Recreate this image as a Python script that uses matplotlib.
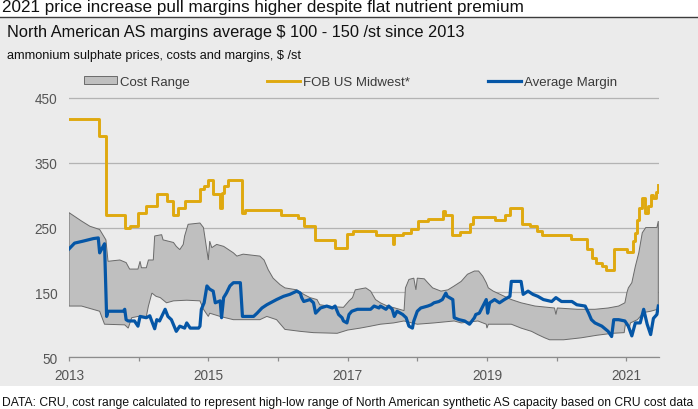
import numpy as np
import matplotlib
matplotlib.use("Agg")
import matplotlib.pyplot as plt
from matplotlib.patches import Rectangle, Patch
from matplotlib.lines import Line2D

# ---- data ----
gold_years = [2013.00, 2013.43, 2013.53, 2013.80, 2013.87, 2013.99, 2014.11, 2014.26, 2014.40, 2014.50,
              2014.57, 2014.66, 2014.88, 2014.94, 2015.00, 2015.07, 2015.17, 2015.19, 2015.23, 2015.28,
              2015.48, 2015.52, 2016.05, 2016.29, 2016.37, 2016.53, 2016.82, 2016.99, 2017.07, 2017.41,
              2017.65, 2017.67, 2017.79, 2017.91, 2018.01, 2018.15, 2018.37, 2018.40, 2018.50, 2018.61,
              2018.75, 2018.80, 2019.12, 2019.26, 2019.33, 2019.50, 2019.62, 2019.72, 2019.79, 2020.20,
              2020.44, 2020.51, 2020.57, 2020.65, 2020.71, 2020.82, 2021.01, 2021.10, 2021.13, 2021.16,
              2021.19, 2021.23, 2021.27, 2021.31, 2021.36, 2021.39, 2021.43, 2021.46]
gold_vals = [418, 391, 269, 250, 252, 272, 283, 302, 291, 270,
             280, 291, 309, 314, 323, 302, 280, 303, 314, 324,
             273, 277, 270, 265, 253, 231, 219, 240, 244, 238,
             224, 238, 242, 247, 260, 263, 275, 270, 238, 243,
             255, 267, 261, 270, 280, 256, 252, 244, 239, 232,
             217, 203, 195, 190, 185, 217, 213, 229, 242, 262,
             280, 296, 273, 283, 300, 295, 305, 316]

margin_years = [2013.00, 2013.08, 2013.20, 2013.35, 2013.42, 2013.44, 2013.49, 2013.51, 2013.54, 2013.56,
                2013.78, 2013.80, 2013.82, 2013.85, 2013.94, 2013.99, 2014.02, 2014.11, 2014.16, 2014.18,
                2014.23, 2014.26, 2014.30, 2014.38, 2014.42, 2014.47, 2014.54, 2014.59, 2014.66, 2014.69,
                2014.74, 2014.86, 2014.88, 2014.90, 2014.94, 2014.98, 2015.02, 2015.07, 2015.10, 2015.17,
                2015.19, 2015.22, 2015.26, 2015.31, 2015.36, 2015.46, 2015.49, 2015.65, 2015.70, 2015.77,
                2015.84, 2015.98, 2016.08, 2016.17, 2016.27, 2016.32, 2016.34, 2016.37, 2016.46, 2016.51,
                2016.54, 2016.61, 2016.70, 2016.78, 2016.82, 2016.87, 2016.92, 2016.94, 2016.99, 2017.02,
                2017.06, 2017.14, 2017.33, 2017.38, 2017.45, 2017.47, 2017.55, 2017.59, 2017.64, 2017.67,
                2017.71, 2017.79, 2017.84, 2017.88, 2017.93, 2017.95, 2018.00, 2018.05, 2018.15, 2018.20,
                2018.24, 2018.31, 2018.36, 2018.41, 2018.43, 2018.51, 2018.53, 2018.60, 2018.68, 2018.75,
                2018.82, 2018.84, 2018.89, 2018.99, 2019.01, 2019.04, 2019.11, 2019.18, 2019.25, 2019.33,
                2019.35, 2019.49, 2019.52, 2019.59, 2019.66, 2019.73, 2019.81, 2019.93, 2019.99, 2020.07,
                2020.22, 2020.29, 2020.41, 2020.46, 2020.50, 2020.55, 2020.65, 2020.74, 2020.79, 2020.82,
                2020.89, 2020.98, 2021.03, 2021.08, 2021.13, 2021.20, 2021.25, 2021.30, 2021.35, 2021.39,
                2021.44, 2021.46]
margin_vals = [217, 226, 229, 233, 234, 211, 221, 225, 113, 121,
               121, 124, 108, 106, 106, 98, 113, 111, 114, 108,
               94, 108, 106, 124, 113, 108, 90, 98, 95, 103,
               95, 95, 98, 124, 134, 160, 155, 152, 134, 137,
               111, 142, 149, 160, 165, 165, 113, 113, 118, 126,
               131, 139, 144, 147, 152, 149, 142, 136, 139, 134,
               118, 126, 129, 126, 129, 116, 111, 106, 103, 116,
               121, 124, 124, 129, 126, 129, 124, 129, 124, 113,
               121, 116, 111, 98, 95, 106, 121, 126, 129, 131,
               134, 136, 139, 149, 144, 139, 111, 108, 106, 101,
               111, 116, 118, 139, 118, 134, 139, 134, 139, 144,
               167, 167, 147, 152, 147, 144, 139, 136, 142, 136,
               136, 131, 129, 118, 108, 103, 98, 90, 82, 108,
               108, 106, 98, 83, 103, 103, 124, 101, 85, 110,
               116, 129]

cost_high_years = [2013.00, 2013.18, 2013.30, 2013.44, 2013.53, 2013.56, 2013.73, 2013.82, 2013.87, 2013.99,
                   2014.02, 2014.04, 2014.11, 2014.14, 2014.21, 2014.23, 2014.33, 2014.35, 2014.50, 2014.54,
                   2014.59, 2014.64, 2014.66, 2014.71, 2014.88, 2014.93, 2015.00, 2015.02, 2015.05, 2015.12,
                   2015.22, 2015.29, 2015.36, 2015.41, 2015.50, 2015.74, 2015.80, 2015.86, 2015.93, 2016.03,
                   2016.10, 2016.27, 2016.37, 2016.46, 2016.56, 2016.60, 2016.80, 2016.94, 2017.02, 2017.07,
                   2017.11, 2017.26, 2017.33, 2017.40, 2017.47, 2017.57, 2017.68, 2017.81, 2017.83, 2017.88,
                   2017.95, 2017.98, 2018.00, 2018.10, 2018.15, 2018.22, 2018.34, 2018.44, 2018.53, 2018.63,
                   2018.72, 2018.82, 2018.88, 2018.94, 2018.99, 2019.02, 2019.09, 2019.25, 2019.35, 2019.49,
                   2019.69, 2019.97, 2019.99, 2020.01, 2020.30, 2020.55, 2020.74, 2020.89, 2020.98, 2021.01,
                   2021.03, 2021.08, 2021.13, 2021.18, 2021.23, 2021.28, 2021.44, 2021.46]
cost_high_vals = [273, 260, 252, 247, 231, 198, 200, 196, 186, 186,
                  198, 188, 188, 200, 200, 237, 239, 231, 227, 221,
                  216, 224, 237, 255, 257, 250, 200, 229, 219, 224,
                  221, 216, 211, 206, 209, 206, 200, 185, 172, 162,
                  157, 154, 147, 142, 139, 131, 128, 127, 137, 142,
                  154, 157, 152, 139, 134, 129, 126, 122, 157, 170,
                  172, 154, 172, 171, 165, 157, 152, 154, 160, 167,
                  178, 183, 183, 175, 165, 157, 152, 144, 139, 134,
                  129, 126, 116, 126, 124, 124, 126, 129, 134, 150,
                  157, 165, 190, 211, 242, 250, 250, 260]

cost_low_years = [2013.00, 2013.18, 2013.44, 2013.51, 2013.80, 2013.85, 2013.90, 2013.99, 2014.11, 2014.14,
                  2014.19, 2014.25, 2014.31, 2014.40, 2014.50, 2014.69, 2014.88, 2014.93, 2015.00, 2015.02,
                  2015.17, 2015.36, 2015.74, 2015.84, 2015.98, 2016.10, 2016.32, 2016.51, 2016.85, 2017.00,
                  2017.18, 2017.33, 2017.47, 2017.66, 2017.81, 2018.00, 2018.24, 2018.53, 2018.63, 2018.87,
                  2018.99, 2019.00, 2019.02, 2019.35, 2019.49, 2019.64, 2019.73, 2019.83, 2019.90, 2020.10,
                  2020.35, 2020.58, 2020.80, 2020.97, 2020.99, 2021.04, 2021.06, 2021.16, 2021.25, 2021.35,
                  2021.45, 2021.46]
cost_low_vals = [129, 129, 121, 101, 100, 95, 111, 113, 113, 129,
                 149, 144, 142, 134, 137, 138, 137, 124, 113, 118,
                 113, 108, 108, 113, 108, 93, 90, 88, 87, 92,
                 95, 98, 101, 103, 106, 101, 103, 106, 103, 106,
                 101, 95, 101, 101, 95, 90, 85, 80, 77, 77,
                 80, 84, 87, 88, 103, 93, 103, 108, 119, 121,
                 124, 129]

tick_years = [2013, 2014, 2015, 2016, 2017, 2018, 2019, 2020, 2021]
tick_labels = ["2013", "", "2015", "", "2017", "", "2019", "", "2021"]
y_ticks = [50, 150, 250, 350, 450]

title = "2021 price increase pull margins higher despite flat nutrient premium"
subtitle = "North American AS margins average $ 100 - 150 /st since 2013"
unit_text = "ammonium sulphate prices, costs and margins, $ /st"
footnote = ("DATA: CRU, cost range calculated to represent high-low range of North American "
            "synthetic AS capacity based on CRU cost data")

GOLD = "#dfa90f"
BLUE = "#0556a6"
FILL = "#bfbfbf"
EDGE = "#6a6a6a"
PANEL = "#ebebeb"

W, H = 698, 410
sans = ["Liberation Sans", "DejaVu Sans"]

fig = plt.figure(figsize=(W / 100, H / 100), dpi=100)
fig.patch.set_facecolor("white")


def fx(px):
    return px / W


def fy(py):
    return 1 - py / H


# grey panel and title rule
fig.patches.append(Rectangle((0, fy(387)), 1, (387 - 19) / H, transform=fig.transFigure,
                             facecolor=PANEL, edgecolor="none", zorder=-10))
fig.lines.append(Line2D([0, 1], [fy(17.5), fy(17.5)], transform=fig.transFigure,
                        color="#3c3c3c", lw=1.0))

fig.text(fx(2), fy(12), title, family=sans, fontsize=12.3, color="#111111", va="baseline")
fig.text(fx(7), fy(37.3), subtitle, family=sans, fontsize=11.75, color="#111111", va="baseline")
fig.text(fx(7), fy(59.3), unit_text, family=sans, fontsize=9.2, color="#111111", va="baseline")

# axes: y 50 at px 358.3, 450 at px 98.8 -> extend top to 455
px_per_unit = (358.3 - 98.8) / 400
top_px = 98.8 - 5 * px_per_unit
ax = fig.add_axes([fx(69), fy(358.3), fx(659) - fx(69), (358.3 - top_px) / H])
ax.set_facecolor("none")
ax.set_xlim(2013, 2021.47)
ax.set_ylim(50, 455)

for s in ["top", "right", "left"]:
    ax.spines[s].set_visible(False)
ax.spines["bottom"].set_color("#8c8c8c")
ax.spines["bottom"].set_linewidth(0.9)

ax.set_yticks(y_ticks)
ax.set_xticks(tick_years)
ax.set_xticklabels(tick_labels)
ax.yaxis.grid(True, color="#b3b3b3", lw=0.9)
ax.set_axisbelow(True)
ax.tick_params(axis="y", length=0, pad=8.5, labelsize=9.8, labelcolor="#555555")
ax.tick_params(axis="x", length=3, width=0.9, color="#8c8c8c", direction="out", pad=4.5,
               labelsize=9.8, labelcolor="#555555")
for lab in ax.get_xticklabels() + ax.get_yticklabels():
    lab.set_family(sans)

# cost range band
band_x = np.concatenate([cost_high_years, cost_low_years[::-1]])
band_y = np.concatenate([cost_high_vals, cost_low_vals[::-1]])
ax.fill(band_x, band_y, facecolor=FILL, edgecolor=EDGE, lw=0.7, zorder=2)

ax.step(gold_years, gold_vals, where="post", color=GOLD, lw=2.1, zorder=3)
ax.plot(margin_years, margin_vals, color=BLUE, lw=2.3, zorder=4)

# legend, one entry per anchor to match spacing
handles = [
    (Patch(facecolor=FILL, edgecolor=EDGE, lw=0.7), "Cost Range", 84),
    (Line2D([], [], color=GOLD, lw=2.1), "FOB US Midwest*", 267),
    (Line2D([], [], color=BLUE, lw=2.3), "Average Margin", 488),
]
for h, lbl, xpos in handles:
    leg = fig.legend([h], [lbl], loc="center left", bbox_to_anchor=(fx(xpos), fy(83)),
                     bbox_transform=fig.transFigure, frameon=False, borderpad=0,
                     borderaxespad=0, handlelength=2.5, handleheight=0.55,
                     handletextpad=0.2, prop={"family": sans, "size": 9.5})
    for t in leg.get_texts():
        t.set_color("#3a3a3a")

fn = fig.text(fx(2), fy(406.5), footnote, family=sans, fontsize=10.5, color="#111111",
              va="baseline")
fig.canvas.draw()
w = fn.get_window_extent().width
fn.set_fontsize(10.5 * 694 / w)

fig.savefig("out.png", dpi=100, facecolor="white")
